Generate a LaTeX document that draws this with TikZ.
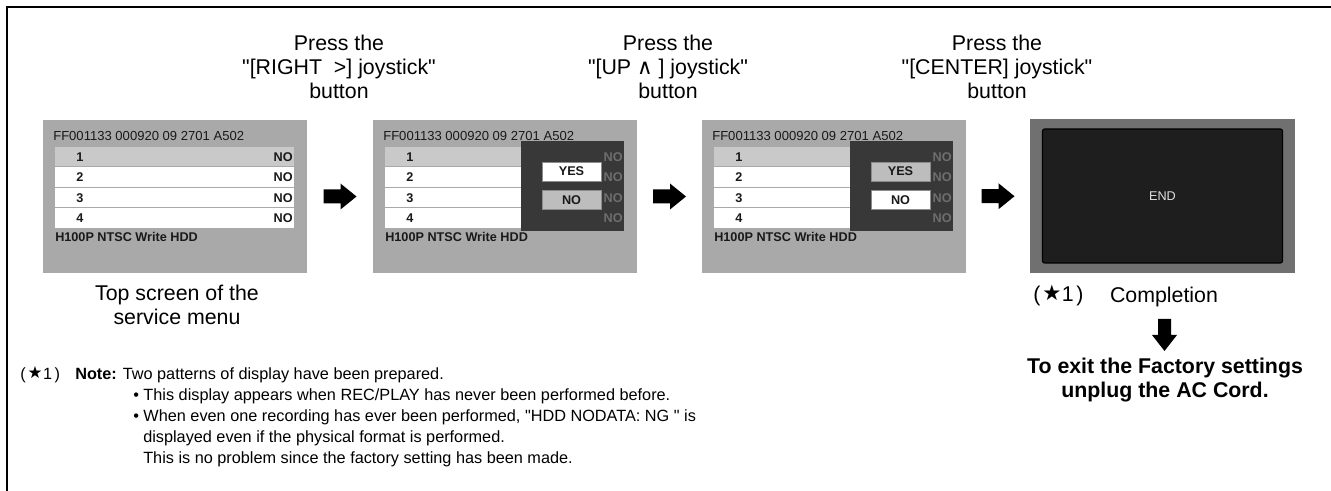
\documentclass[tikz,border=0pt]{standalone}
\usepackage{fontspec}
\setmainfont{Liberation Sans}[Ligatures=TeXOff]
\newfontfamily\symfont{DejaVu Sans}[Ligatures=TeXOff]
\usetikzlibrary{calc}
\definecolor{scrbg}{HTML}{A9A9A9}
\definecolor{rowsel}{HTML}{C9C9C9}
\definecolor{ovl}{HTML}{383838}
\definecolor{endframe}{HTML}{707070}
\definecolor{endbg}{HTML}{1E1E1E}
\definecolor{dimtxt}{HTML}{6E6E6E}
\definecolor{btngray}{HTML}{BDBDBD}
\tikzset{
  lbl/.style={inner sep=0pt, font=\fontsize{16}{17.8}\selectfont, align=center},
  lblbold/.style={inner sep=0pt, font=\fontsize{16}{18}\selectfont\bfseries, align=center},
  notetxt/.style={inner sep=0pt, anchor=west, font=\fontsize{12.2}{15}\selectfont},
  scrtxt/.style={inner sep=0pt, font=\fontsize{9.8}{10}\selectfont, text=black!90},
  scrbold/.style={inner sep=0pt, font=\fontsize{9.5}{10}\selectfont\bfseries, text=black!90},
  screenbox/.style={fill=scrbg, draw=none, minimum width=198pt, minimum height=114.75pt, inner sep=0pt},
  btn/.style={scrbold, draw=black!45, line width=0.6pt, minimum width=44.25pt, minimum height=14.25pt},
  frameline/.style={line width=1.5pt},
  rarrow/.pic={\fill (-16.5,-7) -- (0.5,-7) -- (0.5,-13) -- (16.5,0) -- (0.5,13) -- (0.5,7) -- (-16.5,7) -- cycle;},
  darrow/.pic={\fill (-6.5,-16) -- (6.5,-16) -- (6.5,0) -- (12.5,0) -- (0,16) -- (-12.5,0) -- (-6.5,0) -- cycle;}
}
\newcommand{\popupbox}[3]{% #1 prefix, #2 YES fill, #3 NO fill
  \fill[ovl] (148,21) rectangle (251,111);
  \foreach \i/\t in {1/36.75,2/57.25,3/77.75,4/98.25}{
    \node[scrbold, text=dimtxt, anchor=east] (#1-d\i) at (250,\t) {NO};}
  \node[btn, fill=#2] (#1-yes) at (198.5,51.5) {YES};
  \node[btn, fill=#3] (#1-no) at (198.5,80) {NO};
}
\newcommand{\menuscreen}[3]{% #1 name, #2 x, #3 mode
  \begin{scope}[shift={(#2,120)}]
    \node[screenbox] (#1) at (132,76.5) {};
    \node[scrtxt, anchor=west] (#1-hdr) at (10,16) {FF001133 000920 09 2701 A502};
    \fill[rowsel] (12,27) rectangle (251,46.5);
    \fill[white] (12,47.5) rectangle (251,67);
    \fill[white] (12,68) rectangle (251,87.5);
    \fill[white] (12,88.5) rectangle (251,108);
    \foreach \i/\t in {1/36.75,2/57.25,3/77.75,4/98.25}{
      \node[scrbold] (#1-k\i) at (37,\t) {\i};
      \node[scrbold, anchor=east] (#1-v\i) at (250,\t) {NO};}
    \node[scrbold, anchor=west] (#1-ftr) at (12,117) {H100P NTSC Write HDD};
    \ifcase#3\or\popupbox{#1}{white}{btngray}\or\popupbox{#1}{btngray}{white}\fi
  \end{scope}}
\newcommand{\starmark}[1]{(\kern1.5pt\smash{\raisebox{0.4pt}{\symfont\fontsize{#1}{#1}\selectfont ★}}\kern0.3pt 1\kern2pt)}
\begin{document}
\begin{tikzpicture}[x=0.75pt,y=-0.75pt]
\useasboundingbox (0,0) rectangle (1331,491);
\draw[frameline] (7,491) -- (7,7) -- (1331,7);

% header labels
\node[lbl] (h1) at (339,67) {Press the\\"[RIGHT\ \ >] joystick"\\button};
\node[lbl] (h2) at (668,67) {Press the\\"[UP {\symfont ∧} ] joystick"\\button};
\node[lbl] (h3) at (997,67) {Press the\\"[CENTER] joystick"\\button};

% screens
\menuscreen{s1}{43}{0}
\menuscreen{s2}{373}{1}
\menuscreen{s3}{702}{2}

\node[fill=endframe, minimum width=198.75pt, minimum height=115.5pt, inner sep=0pt] (s4) at (1162.5,196) {};
\node[fill=endbg, draw=black, line width=0.8pt, rounded corners=1.5pt, minimum width=180pt, minimum height=100.5pt, inner sep=0pt,
      text=black!12, font=\fontsize{9.5}{10}\selectfont] (s4in) at (s4.center) {END};

% arrows between screens
\pic at ($(s1.east)!0.5!(s2.west)$) {rarrow};
\pic at ($(s2.east)!0.5!(s3.west)$) {rarrow};
\pic at ($(s3.east)!0.5!(s4.west)$) {rarrow};

% captions
\node[lbl] (cap1) at (177,305) {Top screen of the\\service menu};
\node[lbl, anchor=west] (star2) at (1033,296) {\starmark{16}};
\node[lbl] (compl) at (1164,297) {Completion};
\coordinate (dac) at (1164.5,335);
\pic at (dac) {darrow};
\node[lblbold] (exit) at (1165,380) {To exit the Factory settings\\unplug the AC Cord.};

% notes
\node[notetxt] (n0) at (20,375) {\starmark{12.5}};
\node[notetxt] (n1) at (75,375) {\textbf{Note:} Two patterns of display have been prepared.};
\node[notetxt] (n2) at (133,396) {• This display appears when REC/PLAY has never been performed before.};
\node[notetxt] (n3) at (133,417) {• When even one recording has ever been performed, "HDD NODATA: NG " is};
\node[notetxt] (n4) at (143,438) {displayed even if the physical format is performed.};
\node[notetxt] (n5) at (143,459) {This is no problem since the factory setting has been made.};
\end{tikzpicture}
\end{document}
